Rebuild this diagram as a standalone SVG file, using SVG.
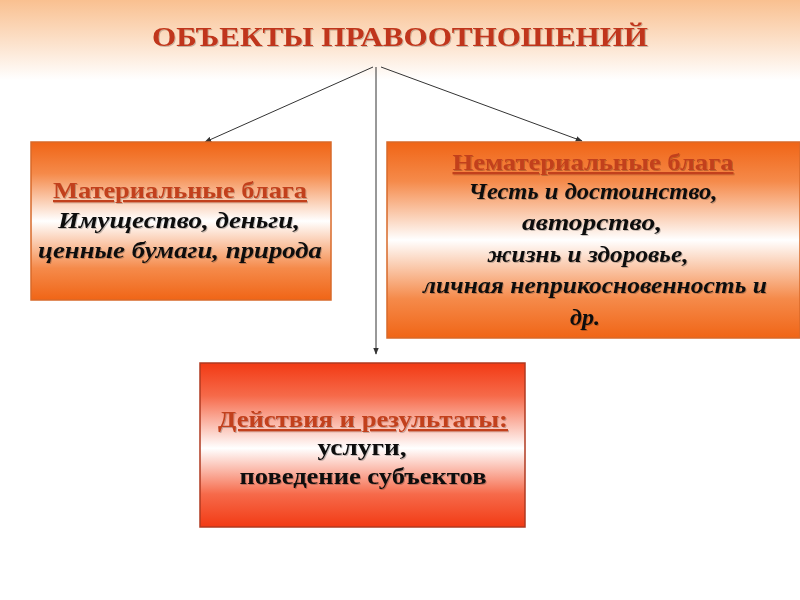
<svg xmlns="http://www.w3.org/2000/svg" width="800" height="600" viewBox="0 0 800 600">
<defs>
<linearGradient id="bg" x1="0" y1="0" x2="0" y2="1">
<stop offset="0" stop-color="#f9c090"/>
<stop offset="1" stop-color="#ffffff"/>
</linearGradient>
<linearGradient id="org" x1="0" y1="0" x2="0" y2="1">
<stop offset="0" stop-color="#f06516"/>
<stop offset="0.2" stop-color="#f58a4a"/>
<stop offset="0.5" stop-color="#ffffff"/>
<stop offset="0.8" stop-color="#f58a4a"/>
<stop offset="1" stop-color="#f06516"/>
</linearGradient>
<linearGradient id="red" x1="0" y1="0" x2="0" y2="1">
<stop offset="0" stop-color="#f23a14"/>
<stop offset="0.2" stop-color="#f66a4a"/>
<stop offset="0.52" stop-color="#ffffff"/>
<stop offset="0.8" stop-color="#f66a4a"/>
<stop offset="1" stop-color="#f23a14"/>
</linearGradient>
<filter id="sh" x="-5%" y="-20%" width="110%" height="140%">
<feDropShadow dx="1" dy="1" stdDeviation="0.6" flood-color="#000" flood-opacity="0.22"/>
</filter>
<marker id="arr" viewBox="0 0 10 10" refX="9" refY="5" markerWidth="7" markerHeight="7" orient="auto" markerUnits="userSpaceOnUse">
<path d="M0,1 L10,5 L0,9 z" fill="#333"/>
</marker>
</defs>
<style>
.box{stroke:#d86a2a;stroke-width:1.5}
.rbox{stroke:#b03a20;stroke-width:1.5}
text{filter:url(#sh)}
.hd{font-family:"Liberation Serif",serif;font-weight:bold;fill:#c2401c;text-decoration:underline;text-anchor:middle}
.it{font-family:"Liberation Serif",serif;font-weight:bold;font-style:italic;fill:#111;text-anchor:middle}
.bd{font-family:"Liberation Serif",serif;font-weight:bold;fill:#111;text-anchor:middle}
.title{font-family:"Liberation Serif",serif;font-weight:bold;fill:#c0361a;text-anchor:middle}
.ln{stroke:#333;stroke-width:1;fill:none;marker-end:url(#arr)}
</style>
<rect width="800" height="600" fill="#fff"/>
<rect width="800" height="80" fill="url(#bg)"/>
<g id="title">
<text class="title" x="400" y="46" font-size="27" textLength="496" lengthAdjust="spacingAndGlyphs">ОБЪЕКТЫ ПРАВООТНОШЕНИЙ</text>
</g>
<g id="connectors">
<line class="ln" x1="373" y1="67" x2="205" y2="142"/>
<line class="ln" x1="376" y1="67" x2="376" y2="354"/>
<line class="ln" x1="381" y1="67" x2="582" y2="141"/>
</g>
<g id="material">
<rect class="box" x="31" y="142" width="300" height="158" fill="url(#org)"/>
<text class="hd" x="180" y="198" font-size="23" textLength="254" lengthAdjust="spacingAndGlyphs">Материальные блага</text>
<text class="it" x="179" y="228" font-size="23" textLength="242" lengthAdjust="spacingAndGlyphs">Имущество, деньги,</text>
<text class="it" x="180" y="258" font-size="23" textLength="284" lengthAdjust="spacingAndGlyphs">ценные бумаги, природа</text>
</g>
<g id="nonmaterial">
<rect class="box" x="387" y="142" width="413" height="196" fill="url(#org)"/>
<text class="hd" x="593" y="170" font-size="23" textLength="281" lengthAdjust="spacingAndGlyphs">Нематериальные блага</text>
<text class="it" x="593" y="199" font-size="23" textLength="249" lengthAdjust="spacingAndGlyphs">Честь и достоинство,</text>
<text class="it" x="592" y="230" font-size="23" textLength="140" lengthAdjust="spacingAndGlyphs">авторство,</text>
<text class="it" x="588" y="262" font-size="23" textLength="201" lengthAdjust="spacingAndGlyphs">жизнь и здоровье,</text>
<text class="it" x="595" y="293" font-size="23" textLength="344" lengthAdjust="spacingAndGlyphs">личная неприкосновенность и</text>
<text class="it" x="585" y="325" font-size="23" textLength="30" lengthAdjust="spacingAndGlyphs">др.</text>
</g>
<g id="actions">
<rect class="rbox" x="200" y="363" width="325" height="164" fill="url(#red)"/>
<text class="hd" x="363" y="427" font-size="23" textLength="290" lengthAdjust="spacingAndGlyphs">Действия и результаты:</text>
<text class="bd" x="362" y="455" font-size="23" textLength="89" lengthAdjust="spacingAndGlyphs">услуги,</text>
<text class="bd" x="363" y="484" font-size="23" textLength="247" lengthAdjust="spacingAndGlyphs">поведение субъектов</text>
</g>
</svg>
